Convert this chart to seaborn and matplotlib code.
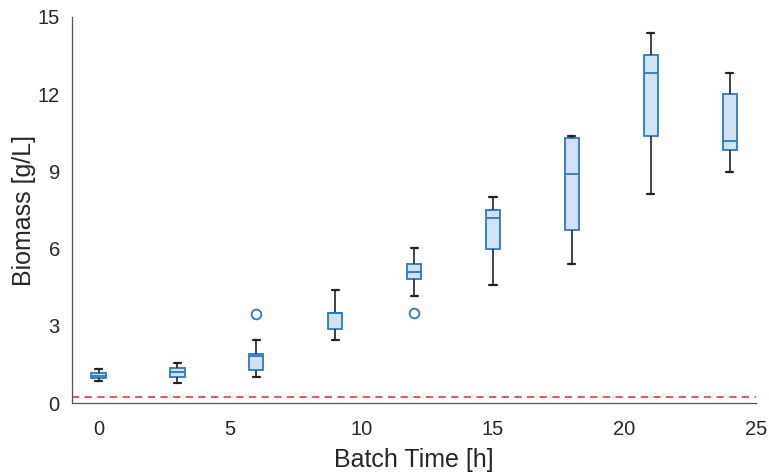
import numpy as np
import pandas as pd
import matplotlib
matplotlib.use("Agg")
import matplotlib.pyplot as plt
import seaborn as sns

# Sampling times of the batch runs [h]
times = [0, 3, 6, 9, 12, 15, 18, 21, 24]

# Biomass readings [g/L] from the replicate runs at each sampling time
biomass_t0 = [0.84, 0.91, 0.96, 1.02, 1.07, 1.12, 1.18, 1.25, 1.34]
biomass_t3 = [0.78, 0.90, 1.02, 1.10, 1.20, 1.28, 1.35, 1.45, 1.54]
biomass_t6 = [1.00, 1.15, 1.29, 1.55, 1.82, 1.86, 1.89, 2.45, 3.47]
biomass_t9 = [2.46, 2.70, 2.87, 3.20, 3.50, 3.50, 3.50, 3.90, 4.40]
biomass_t12 = [3.50, 4.17, 4.84, 4.98, 5.11, 5.25, 5.40, 5.70, 6.02]
biomass_t15 = [4.57, 5.40, 5.98, 6.70, 7.18, 7.35, 7.50, 7.80, 8.02]
biomass_t18 = [5.39, 6.10, 6.74, 7.90, 8.89, 9.70, 10.30, 10.34, 10.38]
biomass_t21 = [8.14, 9.40, 10.37, 11.80, 12.84, 13.20, 13.53, 13.95, 14.36]
biomass_t24 = [8.96, 9.40, 9.83, 10.00, 10.17, 11.10, 12.00, 12.40, 12.82]

# Detection limit of the biomass assay [g/L]
detection_limit = 0.25

readings = [biomass_t0, biomass_t3, biomass_t6, biomass_t9, biomass_t12,
            biomass_t15, biomass_t18, biomass_t21, biomass_t24]
df = pd.DataFrame(
    [(t, v) for t, vals in zip(times, readings) for v in vals],
    columns=["time", "biomass"],
)

edge_blue = "#2b78c8"
face_blue = "#cfe3f4"
text_color = "#262626"

sns.set_style("white")
plt.rcParams["font.family"] = ["Liberation Sans", "DejaVu Sans"]

fig = plt.figure(figsize=(7.69, 4.72), dpi=100)
ax = fig.add_axes([0.094, 0.146, 0.889, 0.818])

sns.boxplot(
    data=df, x="time", y="biomass", native_scale=True, ax=ax,
    width=0.18, color=face_blue, linecolor=edge_blue, linewidth=1.3,
    saturation=1, whis=1.5,
    whiskerprops=dict(color="#333333", linewidth=1.3),
    capprops=dict(color="#222222", linewidth=1.6),
    medianprops=dict(color=edge_blue, linewidth=1.3),
    flierprops=dict(marker="o", markersize=7, markerfacecolor="none",
                    markeredgecolor=edge_blue, markeredgewidth=1.3),
)

ax.axhline(detection_limit, color="#e8474e", linestyle=(0, (4, 3)),
           linewidth=1.3, zorder=0)

ax.set_xlim(-1, 25)
ax.set_ylim(0, 15)
ax.set_xticks([0, 5, 10, 15, 20, 25])
ax.set_yticks([0, 3, 6, 9, 12, 15])
ax.tick_params(direction="in", length=5, width=0.8, labelsize=14.5,
               colors="#555555", labelcolor=text_color)
ax.tick_params(axis="x", pad=12)
ax.tick_params(axis="y", pad=9)
ax.set_xlabel("Batch Time [h]", fontsize=18, color=text_color, labelpad=7)
ax.set_ylabel("Biomass [g/L]", fontsize=18, color=text_color, labelpad=1)

for side in ("top", "right"):
    ax.spines[side].set_visible(False)
for side in ("left", "bottom"):
    ax.spines[side].set_color("#555555")
    ax.spines[side].set_linewidth(0.9)

fig.savefig("out.png", dpi=100)
